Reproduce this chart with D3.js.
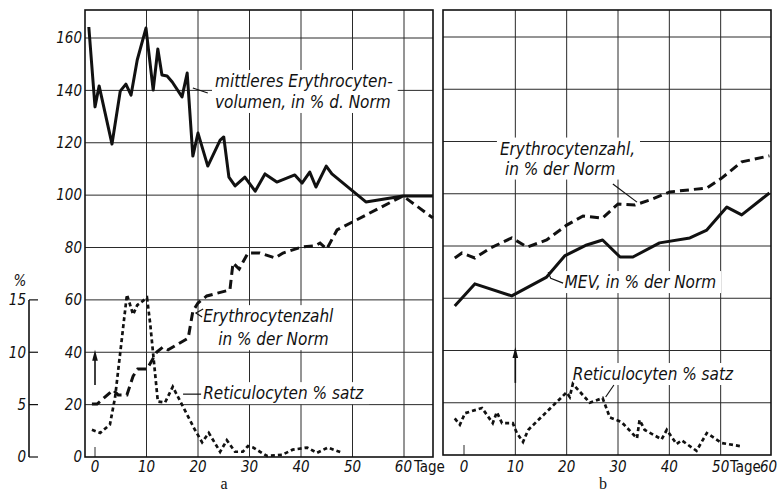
<!DOCTYPE html>
<html>
<head>
<meta charset="utf-8">
<script src="https://cdn.jsdelivr.net/npm/d3@7"></script>
<style>
  html, body { margin: 0; background: #fff; }
  svg { display: block; }
  text { font-family: "Liberation Sans Narrow", "DejaVu Sans Condensed", sans-serif; fill: #111; }
  .num { font-style: italic; font-size: 15px; }
  .lab { font-style: italic; font-size: 17px; }
  .tage { font-size: 15px; }
  .letter { font-family: "Liberation Serif", "DejaVu Serif", serif; font-size: 16px; }
  .grid { stroke: #2a2a2a; stroke-width: 1; }
  .frame { fill: none; stroke: #111; stroke-width: 1.6; }
  .mev { fill: none; stroke: #111; stroke-width: 3; stroke-linejoin: round; }
  .ery { fill: none; stroke: #111; stroke-width: 3; stroke-dasharray: 9 5; }
  .ret { fill: none; stroke: #111; stroke-width: 2.7; stroke-dasharray: 4 3; }
  .lead { fill: none; stroke: #111; stroke-width: 1.2; }
</style>
</head>
<body>
<svg id="chart" width="777" height="497"></svg>
<script>
/* Erythrocyte volume, count and reticulocytes over days — two panels (a, b). */
(function () {
  "use strict";

  // ---- data (day, value in % of norm; reticulocytes in %) ----
  var dayTicks = [0, 10, 20, 30, 40, 50, 60];
  var valTicks = [0, 20, 40, 60, 80, 100, 120, 140, 160];
  var pctTicks = [0, 5, 10, 15];

  var mevA = [[-1.2, 164.2], [0, 133.7], [0.8, 141.7], [3.3, 119.5], [4.9, 139.7], [6.0, 142.4], [7.0, 138.2],
    [8.2, 151.6], [9.9, 163.8], [11.3, 140.1], [12.2, 155.8], [13.0, 145.9], [14.0, 145.5], [15.0, 143.2],
    [16.9, 137.5], [17.9, 146.6], [19.0, 114.9], [20.0, 123.7], [21.9, 111.1], [24.3, 121], [25.0, 122.2],
    [26.0, 106.9], [27.2, 103.5], [29.1, 106.9], [31.1, 101.5], [33.0, 108.1], [35.3, 105], [38.8, 107.7],
    [40.2, 104.6], [41.7, 108.8], [42.9, 103.1], [44.9, 111.1], [46.0, 108.1], [52.6, 97.4], [59.8, 99.7],
    [65.6, 99.7]];
  var eryA = [[-0.6, 20.2], [0.4, 20.2], [3.5, 25.6], [4.5, 23.7], [6.2, 23.7], [7.4, 30.9], [8.3, 33.6],
    [10.1, 33.6], [12.0, 40.1], [13.2, 42], [14.2, 40.9], [18.1, 45.4], [19.0, 55.7], [20.0, 58.8],
    [21.7, 61.5], [26.2, 63.8], [26.8, 74.1], [28.0, 71.8], [29.7, 77.9], [32.0, 77.9], [35.0, 76],
    [36.5, 77.9], [40.2, 80.2], [42.7, 80.6], [43.7, 81.7], [45.0, 79.4], [47.0, 86.7], [59.8, 99.7],
    [65.6, 91.3]];
  var retA = [[-0.6, 2.6], [1.0, 2.3], [2.9, 3.1], [3.9, 5.7], [6.2, 15.5], [7.4, 13.6], [8.2, 14.5],
    [10.1, 15.2], [10.7, 12.8], [12.2, 5.3], [13.6, 5.2], [15.1, 6.7], [19.4, 2.6], [20.8, 1.4], [22.1, 2.3],
    [24.3, 0.5], [25.6, 1.6], [27.2, 0.5], [28.7, 0.5], [29.7, 1.05], [30.7, 0.9], [33.4, 0.1], [36.3, 0.2],
    [38.4, 0.7], [41.2, 0.9], [43.1, 0.4], [45.2, 0.9], [48.0, 0.4]];

  var eryB = [[-1.8, 75.4], [-0.4, 77.3], [2.1, 75.4], [5.1, 79.2], [9.3, 83.1], [12.3, 79.6], [16.1, 82.3],
    [20.0, 88], [23.2, 91.5], [27.0, 90.7], [30.0, 96.1], [33.3, 95.7], [36.2, 97.6], [40.1, 100.7],
    [47.3, 102.2], [50.2, 106], [54.1, 112.2], [59.5, 114.5]];
  var mevB = [[-1.8, 57], [2.1, 65.5], [9.3, 60.9], [16.1, 68.1], [19.6, 76.2], [23.9, 80.4], [27.0, 82.3],
    [30.4, 75.8], [32.9, 75.8], [38.1, 81.2], [44.0, 83.1], [47.3, 86.1], [51.2, 94.9], [54.1, 91.9],
    [59.5, 100.3]];
  var retB = [[-1.8, 3.5], [-0.8, 2.9], [0.2, 4.0], [3.5, 4.5], [5.6, 3.05], [6.4, 4.1], [7.4, 3.05],
    [9.5, 3.05], [10.3, 2.1], [11.5, 1.25], [12.5, 2.4], [20.0, 6.0], [20.6, 5.55], [21.2, 6.8], [24.5, 5.0],
    [27.0, 5.45], [28.4, 3.6], [30.7, 3.15], [33.7, 1.6], [34.2, 3.35], [35.2, 2.4], [38.5, 1.5], [39.5, 2.4],
    [41.4, 1.05], [42.4, 1.4], [45.3, 0.4], [47.3, 2.1], [50.2, 1.15], [54.3, 0.8]];

  // arrows: [day, from value, to value]
  var arrowA = [0, 27.5, 41];
  var arrowB = [10, 27.6, 41.3];

  // labels in data coords: day, value of first baseline
  var labelsA = [
    { lines: ["mittleres Erythrocyten-", "volumen, in % d. Norm"], day: 23.3, val: 141.3, dx: [0, 0], lh: 21 },
    { lines: ["Erythrocytenzahl", "in % der Norm"], day: 21, val: 51.5, dx: [0, 15], lh: 23 },
    { lines: ["Reticulocyten % satz"], day: 21, val: 22.1, dx: [0], lh: 0 }
  ];
  var leadersA = [[[19.0, 140.9], [21.9, 139]], [[21, 56.5], [19.6, 55], [20.8, 53.5]], [[17.1, 24], [20.6, 24]]];
  var labelsB = [
    { lines: ["Erythrocytenzahl,", "in % der Norm"], day: 7.0, val: 115, dx: [0, 5], lh: 20 },
    { lines: ["MEV, in % der Norm"], day: 19.6, val: 63.9, dx: [0], lh: 0 },
    { lines: ["Reticulocyten % satz"], day: 21.2, val: 28.7, dx: [0], lh: 0 }
  ];
  var leadersB = [[[29, 103.7], [33.7, 96.8]], [[16.4, 70], [16.9, 67.6], [19.3, 65.8]], [[29.2, 26.8], [27.6, 22.2]]];

  var svg = d3.select("#chart");

  function panel(o) {
    var x = d3.scaleLinear().domain([0, 60]).range(o.xr);
    var y = d3.scaleLinear().domain([0, 160]).range(o.yr);
    var p = d3.scaleLinear().domain([0, 15]).range([y(0), y(60)]);
    var g = svg.append("g");
    var fr = o.frame;

    var gGrid = g.append("g"), gBg = g.append("g"), gLines = g.append("g"), gText = g.append("g");

    // grid
    gGrid.selectAll("line.v").data(o.vgrid).enter().append("line").attr("class", "grid")
      .attr("x1", function (d) { return x(d); }).attr("x2", function (d) { return x(d); })
      .attr("y1", fr[1]).attr("y2", fr[3]);
    gGrid.selectAll("line.h").data(valTicks.slice(1)).enter().append("line").attr("class", "grid")
      .attr("x1", fr[0]).attr("x2", fr[2])
      .attr("y1", function (d) { return y(d); }).attr("y2", function (d) { return y(d); });
    gGrid.append("line").attr("class", "grid").attr("x1", x(0)).attr("x2", x(0)).attr("y1", fr[3] - 10).attr("y2", fr[3]);
    gGrid.append("rect").attr("class", "frame").attr("x", fr[0]).attr("y", fr[1])
      .attr("width", fr[2] - fr[0]).attr("height", fr[3] - fr[1]);

    // bottom ticks
    gText.selectAll("text.xt").data(dayTicks.slice(0, 6)).enter().append("text").attr("class", "num")
      .attr("x", function (d) { return x(d); }).attr("y", 472).attr("text-anchor", "middle")
      .text(function (d) { return d; });
    gText.append("text").attr("class", "num").attr("x", o.sixtyX).attr("y", 472).attr("text-anchor", o.sixtyAnchor).text("60");
    gText.append("text").attr("class", "tage").attr("x", o.tageX).attr("y", 472).text("Tage");
    gText.append("text").attr("class", "letter").attr("x", o.letterX).attr("y", 489)
      .attr("text-anchor", "middle").text(o.letter);

    // labels with white background
    o.labels.forEach(function (L) {
      var t = gText.append("g");
      L.lines.forEach(function (s, i) {
        t.append("text").attr("class", "lab").attr("x", x(L.day) + L.dx[i]).attr("y", y(L.val) + i * L.lh).text(s);
      });
      var b = t.node().getBBox();
      gBg.append("rect").attr("x", b.x - 3).attr("y", b.y - 1).attr("width", b.width + 8).attr("height", b.height + 2)
        .attr("fill", "#fff");
    });
    var lead = d3.line().x(function (d) { return x(d[0]); }).y(function (d) { return y(d[1]); });
    o.leaders.forEach(function (l) { gLines.append("path").attr("class", "lead").attr("d", lead(l)); });

    // series
    var lv = d3.line().x(function (d) { return x(d[0]); }).y(function (d) { return y(d[1]); });
    var lp = d3.line().x(function (d) { return x(d[0]); }).y(function (d) { return p(d[1]); });
    gLines.append("path").attr("class", "mev").attr("d", lv(o.mev));
    gLines.append("path").attr("class", "ery").attr("d", lv(o.ery));
    gLines.append("path").attr("class", "ret").attr("d", lp(o.ret));

    // arrow: shaft + narrow filled head
    var ax = x(o.arrow[0]), y0 = y(o.arrow[1]), y1 = y(o.arrow[2]);
    gLines.append("line").attr("stroke", "#111").attr("stroke-width", 1.6)
      .attr("x1", ax).attr("x2", ax).attr("y1", y0).attr("y2", y1 + 8);
    gLines.append("path").attr("fill", "#111")
      .attr("d", "M" + (ax - 2.8) + "," + (y1 + 11) + "L" + ax + "," + y1 + "L" + (ax + 2.8) + "," + (y1 + 11) + "Z");

    return { x: x, y: y, p: p };
  }

  var A = panel({ xr: [95, 404], yr: [457, 38], frame: [85, 10, 433, 457], vgrid: [10, 20, 30, 40, 50, 60],
    mev: mevA, ery: eryA, ret: retA, arrow: arrowA, labels: labelsA, leaders: leadersA,
    sixtyX: 412, sixtyAnchor: "end", tageX: 414, letter: "a", letterX: 224 });
  var B = panel({ xr: [464, 772], yr: [455, 37], frame: [443, 10, 771, 455], vgrid: [10, 20, 30, 40, 50],
    mev: mevB, ery: eryB, ret: retB, arrow: arrowB, labels: labelsB, leaders: leadersB,
    sixtyX: 760, sixtyAnchor: "start", tageX: 730, letter: "b", letterX: 603 });

  // left value axis labels (panel a)
  svg.append("g").selectAll("text").data(valTicks).enter().append("text").attr("class", "num")
    .attr("x", 82).attr("y", function (d) { return A.y(d); }).attr("dy", "0.35em")
    .attr("text-anchor", "end").text(function (d) { return d; });

  // reticulocyte % axis
  var ax = svg.append("g");
  ax.append("line").attr("stroke", "#111").attr("stroke-width", 1.6).attr("x1", 29).attr("x2", 29)
    .attr("y1", A.p(0)).attr("y2", A.p(15));
  ax.selectAll("line.t").data(pctTicks).enter().append("line").attr("stroke", "#111").attr("stroke-width", 1.2)
    .attr("x1", 29).attr("x2", 38).attr("y1", function (d) { return A.p(d); }).attr("y2", function (d) { return A.p(d); });
  ax.selectAll("text").data(pctTicks).enter().append("text").attr("class", "num")
    .attr("x", 26).attr("y", function (d) { return A.p(d); }).attr("dy", "0.35em").attr("text-anchor", "end")
    .text(function (d) { return d; });
  ax.append("text").attr("class", "num").attr("x", 20).attr("y", A.p(15) - 14).attr("text-anchor", "middle").text("%");
})();
</script>
</body>
</html>
